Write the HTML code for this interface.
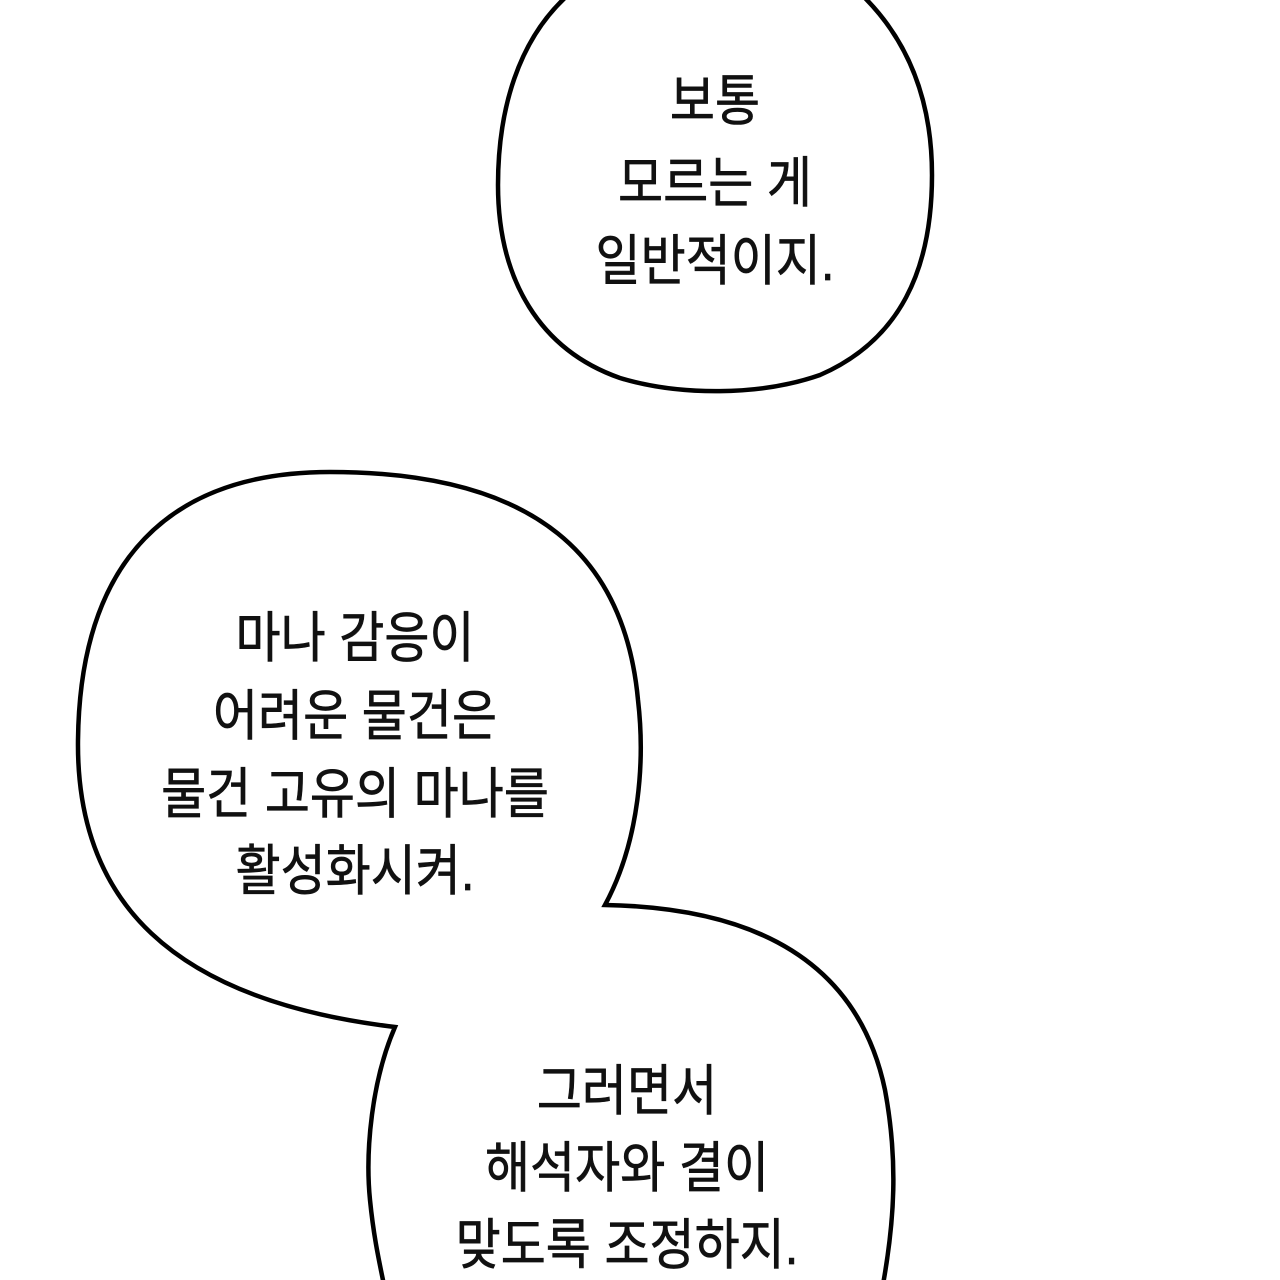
<!DOCTYPE html>
<html><head><meta charset="utf-8"><style>
html,body{margin:0;padding:0;background:#fff;}
body{width:1280px;height:1280px;overflow:hidden;position:relative;}
svg{position:absolute;left:0;top:0;}
text{font-family:"Liberation Sans","Noto Sans CJK KR",sans-serif;font-size:49px;fill:#111;text-anchor:middle;stroke:#111;stroke-width:0.6px;}
</style></head><body>
<svg width="1280" height="1280" viewBox="0 0 1280 1280">
<path d="M 568,-5 C 518,40 498,110 498,185 C 498,280 540,350 620,378 C 680,396 760,396 820,375 C 900,340 932,270 932,175 C 932,100 908,40 862,-5 Z" fill="#fff" stroke="#000" stroke-width="4.5"/>
<path d="M 605,905 C 640,840 645,760 638,700 C 625,560 540,472 330,472 C 170,472 80,560 78,740 C 76,900 170,1000 395,1027 C 372,1080 365,1150 370,1200 C 374,1240 380,1265 385,1290 L 882,1290 C 895,1220 898,1160 885,1090 C 862,980 780,908 605,905 Z" fill="#fff" stroke="#000" stroke-width="4.5" stroke-linejoin="miter"/>
<g transform="scale(1,1.12)">
<text x="715" y="107.1">보통</text>
<text x="715" y="180.4">모르는 게</text>
<text x="715" y="250">일반적이지.</text>
<text x="355" y="586.6">마나 감응이</text>
<text x="355" y="656.3">어려운 물건은</text>
<text x="355" y="725.9">물건 고유의 마나를</text>
<text x="355" y="794.6">활성화시켜.</text>
<text x="627" y="991.1">그러면서</text>
<text x="627" y="1059.8">해석자와 결이</text>
<text x="627" y="1128.6">맞도록 조정하지.</text>
</g>
</svg>
</body></html>
